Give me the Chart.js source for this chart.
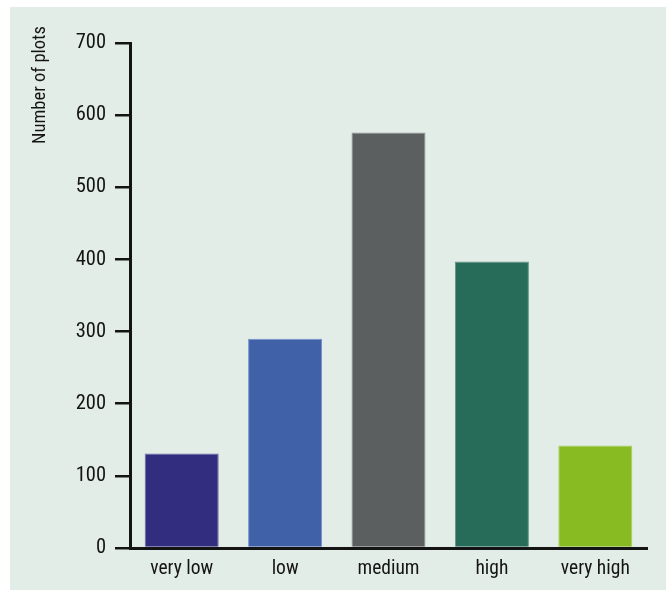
<!DOCTYPE html>
<html>
<head>
<meta charset="utf-8">
<script src="https://cdn.jsdelivr.net/npm/chart.js@4"></script>
<style>
  html, body { margin: 0; padding: 0; background: #ffffff; }
  #wrap { width: 666px; height: 590px; position: relative; }
</style>
</head>
<body>
<div id="wrap"><canvas id="chart" width="666" height="590"></canvas></div>
<script>
// Plot counts per class
const categories = ['very low', 'low', 'medium', 'high', 'very high'];
const plotCounts = [131, 290, 576, 397, 142];
const barColors = ['#332d80', '#4060a8', '#5b5f60', '#266c58', '#88bb22'];
const barEdges = ['#6e6aa8', '#7590c8', '#8e9696', '#5e9686', '#a8d060'];
const yTicks = [0, 100, 200, 300, 400, 500, 600, 700];
const yTitle = 'Number of plots';

const FONT = "'Liberation Sans Narrow', 'Roboto Condensed', 'DejaVu Sans Condensed', sans-serif";
const INK = '#141414';

// Pale panel behind the chart, plus the rotated axis caption near the top
const panel = {
  id: 'panel',
  beforeDraw(chart) {
    const ctx = chart.ctx;
    ctx.save();
    ctx.fillStyle = '#e3ede8';
    ctx.fillRect(10, 7, chart.width - 10, chart.height - 7);
    ctx.restore();
  },
  afterDraw(chart) {
    const ctx = chart.ctx;
    ctx.save();
    ctx.translate(40, 85);
    ctx.rotate(-Math.PI / 2);
    ctx.font = '18.5px ' + FONT;
    ctx.fillStyle = INK;
    ctx.textAlign = 'center';
    ctx.textBaseline = 'middle';
    ctx.fillText(yTitle, 0, 0);
    ctx.restore();
  }
};

new Chart(document.getElementById('chart'), {
  type: 'bar',
  data: {
    labels: categories,
    datasets: [{
      data: plotCounts,
      backgroundColor: barColors,
      borderColor: barEdges,
      borderWidth: 1,
      categoryPercentage: 1,
      barPercentage: 0.716
    }]
  },
  options: {
    responsive: false,
    animation: false,
    layout: { padding: { top: 43, right: 19, bottom: 0, left: 0 } },
    plugins: { legend: { display: false }, tooltip: { enabled: false } },
    scales: {
      x: {
        grid: { display: false, drawTicks: false },
        border: { display: true, color: INK, width: 3 },
        ticks: { color: INK, font: { family: FONT, size: 19.5 }, padding: 9 },
        afterFit(s) { s.height = 42; }
      },
      y: {
        min: 0,
        max: 700,
        afterBuildTicks(s) { s.ticks = yTicks.map(v => ({ value: v })); },
        grid: { drawOnChartArea: false, drawTicks: true, tickLength: 15, color: INK, lineWidth: 2.5 },
        border: { display: true, color: INK, width: 3 },
        ticks: { color: INK, font: { family: FONT, size: 20.5 }, padding: 9 },
        afterFit(s) { s.width = 130; }
      }
    }
  },
  plugins: [panel]
});
</script>
</body>
</html>
